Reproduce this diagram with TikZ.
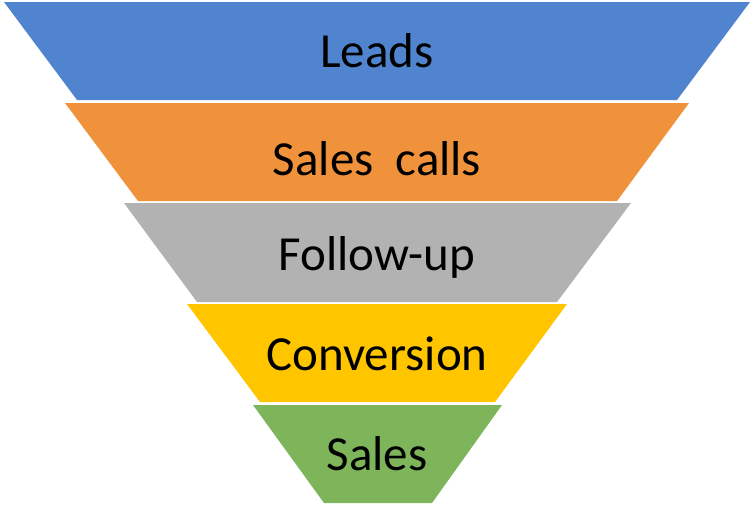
\documentclass[tikz,border=0pt]{standalone}
\usepackage{fontspec}
\setmainfont{Carlito}
\usetikzlibrary{positioning}

\definecolor{leadsblue}{RGB}{80,132,206}
\definecolor{callsorange}{RGB}{240,145,60}
\definecolor{followgray}{RGB}{178,178,178}
\definecolor{convyellow}{RGB}{255,198,0}
\definecolor{salesgreen}{RGB}{126,180,90}

\begin{document}
\begin{tikzpicture}[x=1pt, y=-1pt,
  stage/.style={draw=none},
  stagetext/.style={font=\fontsize{49}{57}\selectfont, text=black, anchor=base, inner sep=0pt}]

  \useasboundingbox (0,0) rectangle (754,512);

  % funnel layers: colour / top y / top left / top right / bottom y / bottom left / bottom right
  \foreach \col/\ty/\tl/\tr/\by/\bl/\br in {
      leadsblue/2/4/750/100/77/677,
      callsorange/103/65/689/201/138/617,
      followgray/203/124/631/302/197/557,
      convyellow/304/187/567/402/260/495,
      salesgreen/405/253/502/503/324/432}
    \fill[stage, \col] (\tl,\ty) -- (\tr,\ty) -- (\br,\by) -- (\bl,\by) -- cycle;

  \node[stagetext] (leads) at (377,67) {Leads};
  \node[stagetext] (calls) at (377,175) {Sales~~calls};
  \node[stagetext] (follow) at (377,270) {Follow-up};
  \node[stagetext] (conv) at (377,370) {Conversion};
  \node[stagetext] (sales) at (377,470) {Sales};
\end{tikzpicture}
\end{document}
